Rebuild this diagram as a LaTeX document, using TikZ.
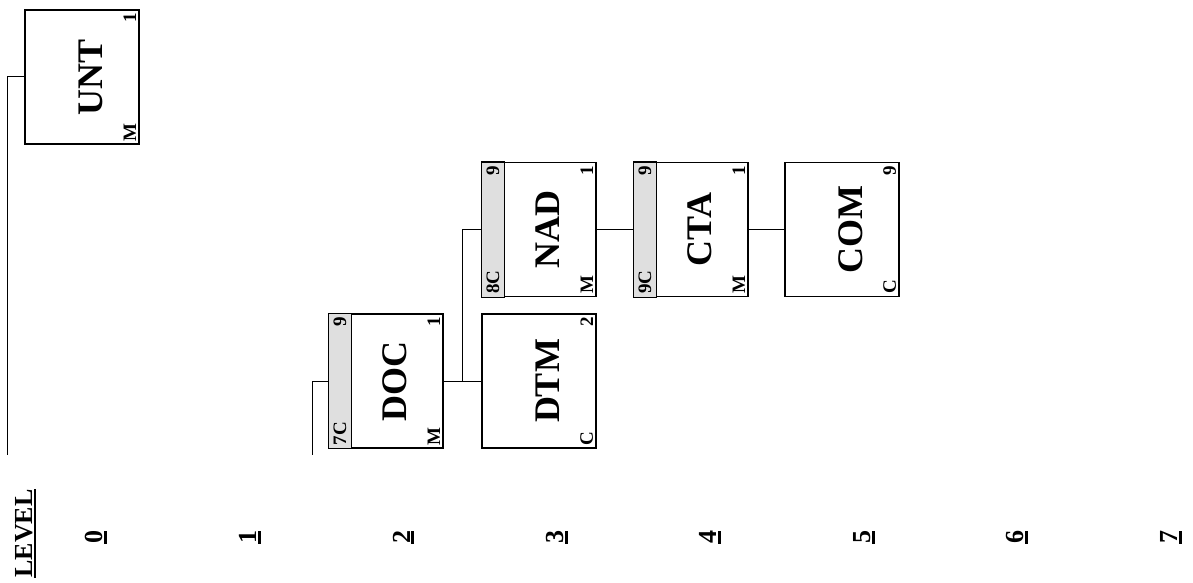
\documentclass[tikz,border=0pt]{standalone}
\usepackage{fontspec}
\setmainfont{Liberation Serif}
\newcommand{\undl}[2][1pt]{\vtop{\hbox{#2}\kern0.6pt\hrule height #1}}

\begin{document}
\begin{tikzpicture}[
    x=0.5pt, y=-0.5pt,
    rec/.style={draw, line width=0.6pt, minimum width=57pt, minimum height=67pt, inner sep=0pt},
    big/.style={rotate=90, inner sep=0pt, font=\fontsize{18}{18}\selectfont\bfseries},
    tag/.style={rotate=90, inner sep=1.6pt, font=\fontsize{9.5}{10}\selectfont\bfseries},
    lvl/.style={rotate=90, inner sep=0pt, font=\fontsize{13}{13}\selectfont\bfseries},
    band/.style={draw, line width=0.6pt, fill=gray!25},
    link/.style={line width=0.5pt}
  ]
  \useasboundingbox (0,0) rectangle (1193,583);

  % boxes
  \foreach \n/\x/\y/\t/\a/\b in {unt/82/77/UNT/1/M, doc/386/381/DOC/1/M,
      dtm/539/381/DTM/2/C, nad/539/229.5/NAD/1/M, cta/691/229.5/CTA/1/M,
      com/842/229.5/COM/9/C} {
    \node[rec] (\n) at (\x,\y) {};
    \node[big] at ([xshift=4.5pt]\n.center) {\t};
    \node[tag, anchor=south east] at (\n.north east) {\a};
    \node[tag, anchor=south west] at (\n.south east) {\b};
  }

  % grey bands
  \foreach \n/\c in {doc/7C, nad/8C, cta/9C} {
    \draw[band] (\n.north west) rectangle ([xshift=11.5pt]\n.south west);
    \node[tag, anchor=east] at ([xshift=5.75pt]\n.north west) {9};
    \node[tag, anchor=west] at ([xshift=5.75pt]\n.south west) {\c};
  }

  % connectors
  \coordinate (root) at (7,455);
  \coordinate (up) at (312,455);
  \coordinate (fork) at (462,381);
  \draw[link] (unt.west) -| (root);
  \draw[link] (doc.west) -| (up);
  \draw[link] (doc.east) -- (dtm.west);
  \draw[link] (nad.west) -| (fork);
  \draw[link] (nad.east) -- (cta.west);
  \draw[link] (cta.east) -- (com.west);

  % levels
  \node[lvl] (level) at (26,533.5) {\undl[1pt]{LEVEL}};
  \foreach \k in {0,...,7}
    \node[lvl] (lv\k) at ({96.5+153.5*\k},537) {\undl[1.5pt]{\k}};
\end{tikzpicture}
\end{document}
